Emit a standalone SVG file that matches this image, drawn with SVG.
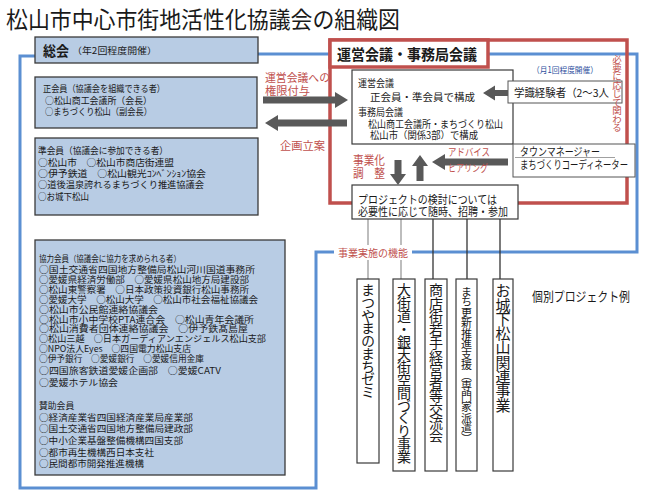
<svg xmlns="http://www.w3.org/2000/svg" width="650" height="500" viewBox="0 0 650 500">
<style>
text{font-family:"Noto Sans CJK JP","Noto Sans",sans-serif;fill:#1a1a1a}
.lb{fill:#b8cce4;stroke:#3a3a3a;stroke-width:1.3}
.wb{fill:#fff;stroke:#3a3a3a;stroke-width:1.2}
.t10{font-size:9.5px}
.t9{font-size:8.8px}
.t11{font-size:9.8px}
.red{fill:#c0504d}
.blue{fill:none;stroke:#5b8fd2;stroke-width:3}
.arr{fill:#595959}
.vt{writing-mode:vertical-rl}
</style>
<rect width="650" height="500" fill="#fff"/>
<text x="6" y="28" font-size="23" textLength="394" lengthAdjust="spacingAndGlyphs">松山市中心市街地活性化協議会の組織図</text>

<g id="connectors">
<path class="blue" d="M35,56 H20 V488 H316 V252 H334"/>
<path class="blue" d="M412,252 H637 V54 H258"/>
<line x1="368" y1="219" x2="368" y2="279" stroke="#9a9a9a" stroke-width="1.3"/>
<line x1="401" y1="219" x2="401" y2="279" stroke="#9a9a9a" stroke-width="1.3"/>
<line x1="433" y1="219" x2="433" y2="279" stroke="#333" stroke-width="1.3"/>
<line x1="467" y1="219" x2="467" y2="279" stroke="#333" stroke-width="1.3"/>
<line x1="500" y1="219" x2="500" y2="279" stroke="#333" stroke-width="1.3"/>
</g>

<g id="steering">
<rect x="330" y="40" width="297" height="163" fill="none" stroke="#c0504d" stroke-width="3.5"/>
<rect x="330" y="40" width="158" height="27" fill="#fff" stroke="#c0504d" stroke-width="3.5"/>
<text x="337" y="60" font-size="15" font-weight="bold" textLength="140" lengthAdjust="spacingAndGlyphs">運営会議・事務局会議</text>
<text x="532" y="73" font-size="8.5" style="fill:#2e4f9e" textLength="66" lengthAdjust="spacingAndGlyphs">（月1回程度開催）</text>
</g>

<g id="soukai">
<rect class="lb" x="35" y="37" width="223" height="26"/>
<text x="43" y="56" font-size="14" font-weight="bold" textLength="26" lengthAdjust="spacingAndGlyphs">総会</text>
<text x="72" y="54" font-size="9" textLength="85" lengthAdjust="spacingAndGlyphs">（年2回程度開催）</text>
</g>

<g id="seikaiin">
<rect class="lb" x="35" y="77" width="222" height="51"/>
<text class="t10" x="43" y="92" textLength="122" lengthAdjust="spacingAndGlyphs">正会員（協議会を組織できる者）</text>
<text class="t10" x="45" y="104" textLength="107" lengthAdjust="spacingAndGlyphs">○松山商工会議所（会長）</text>
<text class="t10" x="45" y="115" textLength="107" lengthAdjust="spacingAndGlyphs">○まちづくり松山（副会長）</text>
</g>

<g id="junkaiin">
<rect class="lb" x="35" y="138" width="223" height="77"/>
<text class="t10" x="38" y="154" textLength="130" lengthAdjust="spacingAndGlyphs">準会員（協議会に参加できる者）</text>
<text class="t10" x="38" y="166" textLength="136" lengthAdjust="spacingAndGlyphs">○松山市　○松山市商店街連盟</text>
<text class="t10" x="38" y="177" textLength="168" lengthAdjust="spacingAndGlyphs">○伊予鉄道　○松山観光ｺﾝﾍﾞﾝｼｮﾝ協会</text>
<text class="t10" x="38" y="188" textLength="166" lengthAdjust="spacingAndGlyphs">○道後温泉誇れるまちづくり推進協議会</text>
<text class="t10" x="38" y="200" textLength="51" lengthAdjust="spacingAndGlyphs">○お城下松山</text>
</g>

<g id="kyouryoku">
<rect class="lb" x="35" y="240" width="250" height="235"/>
<text class="t9" x="39" y="261.5" textLength="142" lengthAdjust="spacingAndGlyphs">協力会員（協議会に協力を求められる者）</text>
<text class="t9" x="39" y="272.5" textLength="216" lengthAdjust="spacingAndGlyphs">○国土交通省四国地方整備局松山河川国道事務所</text>
<text class="t9" x="39" y="282.5" textLength="210" lengthAdjust="spacingAndGlyphs">○愛媛県経済労働部　○愛媛県松山地方局建設部</text>
<text class="t9" x="39" y="292.5" textLength="210" lengthAdjust="spacingAndGlyphs">○松山東警察署　○日本政策投資銀行松山事務所</text>
<text class="t9" x="39" y="302.5" textLength="219" lengthAdjust="spacingAndGlyphs">○愛媛大学　○松山大学　○松山市社会福祉協議会</text>
<text class="t9" x="39" y="312.5" textLength="119" lengthAdjust="spacingAndGlyphs">○松山市公民館連絡協議会</text>
<text class="t9" x="39" y="322.5" textLength="215" lengthAdjust="spacingAndGlyphs">○松山市小中学校PTA連合会　○松山青年会議所</text>
<text class="t9" x="39" y="332" textLength="209" lengthAdjust="spacingAndGlyphs">○松山消費者団体連絡協議会　○伊予鉄髙島屋</text>
<text class="t9" x="39" y="341.5" textLength="227" lengthAdjust="spacingAndGlyphs">○松山三越　○日本ガーディアンエンジェルス松山支部</text>
<text class="t9" x="39" y="351.5" textLength="152" lengthAdjust="spacingAndGlyphs">○NPO法人Eyes　○四国電力松山支店</text>
<text class="t9" x="39" y="361.5" textLength="165" lengthAdjust="spacingAndGlyphs">○伊予銀行　○愛媛銀行　○愛媛信用金庫</text>
<text class="t9" x="39" y="374" textLength="182" lengthAdjust="spacingAndGlyphs">○四国旅客鉄道愛媛企画部　○愛媛CATV</text>
<text class="t9" x="39" y="385.5" textLength="79" lengthAdjust="spacingAndGlyphs">○愛媛ホテル協会</text>
<text class="t9" x="39" y="408.5">賛助会員</text>
<text class="t9" x="39" y="420.5" textLength="154" lengthAdjust="spacingAndGlyphs">○経済産業省四国経済産業局産業部</text>
<text class="t9" x="39" y="431.5" textLength="154" lengthAdjust="spacingAndGlyphs">○国土交通省四国地方整備局建政部</text>
<text class="t9" x="39" y="443.5" textLength="144" lengthAdjust="spacingAndGlyphs">○中小企業基盤整備機構四国支部</text>
<text class="t9" x="39" y="455.5" textLength="115" lengthAdjust="spacingAndGlyphs">○都市再生機構西日本支社</text>
<text class="t9" x="39" y="466.5" textLength="105" lengthAdjust="spacingAndGlyphs">○民間都市開発推進機構</text>
</g>

<g id="unei">
<rect class="wb" x="352" y="70" width="161" height="74"/>
<text class="t11" x="358" y="87" textLength="36" lengthAdjust="spacingAndGlyphs">運営会議</text>
<text class="t11" x="370" y="101" textLength="105" lengthAdjust="spacingAndGlyphs">正会員・準会員で構成</text>
<text class="t11" x="358" y="116" textLength="45" lengthAdjust="spacingAndGlyphs">事務局会議</text>
<text class="t11" x="368" y="128" textLength="135" lengthAdjust="spacingAndGlyphs">松山商工会議所・まちづくり松山</text>
<text class="t11" x="370" y="138.5" textLength="108" lengthAdjust="spacingAndGlyphs">松山市（関係3部）で構成</text>
</g>

<g id="gakushiki">
<rect x="508" y="81" width="114" height="22" fill="#fff" stroke="#555" stroke-width="1"/>
<text x="514" y="96.5" font-size="11" textLength="95" lengthAdjust="spacingAndGlyphs">学識経験者（2～3人</text>
</g>

<g id="town">
<rect x="513" y="144" width="122" height="33" fill="#fff" stroke="#555" stroke-width="1"/>
<text x="520" y="155.5" font-size="11" textLength="80" lengthAdjust="spacingAndGlyphs">タウンマネージャー</text>
<line x1="515" y1="157.5" x2="615" y2="157.5" stroke="#888" stroke-width="0.8"/>
<text x="520" y="168.5" font-size="11" textLength="108" lengthAdjust="spacingAndGlyphs">まちづくりコーディネーター</text>
</g>

<text x="617" y="55" font-size="9.5" class="red vt" letter-spacing="-1">必要に応じて関わる</text>

<g id="project">
<rect class="wb" x="352" y="185" width="166" height="34"/>
<text x="358" y="203.5" font-size="11.5" textLength="139" lengthAdjust="spacingAndGlyphs">プロジェクトの検討については</text>
<text x="358" y="215.5" font-size="11.5" textLength="150" lengthAdjust="spacingAndGlyphs">必要性に応じて随時、招聘・参加</text>
</g>

<g id="arrows">
<polygon class="arr" points="263,96.5 335,96.5 335,92 348,100 335,108 335,103.5 263,103.5"/>
<polygon class="arr" points="347,119.5 278,119.5 278,115 265,123 278,131 278,126.5 347,126.5"/>
<polygon class="arr" points="508,90 495,90 495,85.5 483,93 495,100.5 495,96 508,96"/>
<polygon class="arr" points="508,158.5 445,158.5 445,154 432,162 445,170 445,165.5 508,165.5"/>
<polygon class="arr" points="394.5,160 394.5,174 390,174 398,185 406,174 401.5,174 401.5,160"/>
<polygon class="arr" points="416.5,181 416.5,166 412,166 420,155 428,166 423.5,166 423.5,181"/>
</g>

<g id="labels">
<text class="red" x="265" y="82" font-size="11" textLength="65" lengthAdjust="spacingAndGlyphs">運営会議への</text>
<text class="red" x="265" y="94.5" font-size="11" textLength="45" lengthAdjust="spacingAndGlyphs">権限付与</text>
<text class="red" x="280" y="149.5" font-size="11" textLength="45" lengthAdjust="spacingAndGlyphs">企画立案</text>
<text class="red" x="353" y="164.5" font-size="12" textLength="32" lengthAdjust="spacingAndGlyphs">事業化</text>
<text class="red" x="353" y="177.5" font-size="12" textLength="32" lengthAdjust="spacingAndGlyphs">調　整</text>
<text class="red" x="448" y="156" font-size="10" textLength="42" lengthAdjust="spacingAndGlyphs">アドバイス</text>
<text class="red" x="448" y="172" font-size="10" textLength="40" lengthAdjust="spacingAndGlyphs">ヒアリング</text>
<rect x="334" y="245" width="78" height="15" fill="#fff"/>
<text class="red" x="338" y="257" font-size="10" textLength="70" lengthAdjust="spacingAndGlyphs">事業実施の機能</text>
<text x="532" y="301" font-size="13" textLength="98" lengthAdjust="spacingAndGlyphs">個別プロジェクト例</text>
</g>

<g id="p1">
<rect class="wb" x="357" y="279" width="22" height="184"/>
<text class="vt" x="368" y="283" font-size="14" letter-spacing="-1.3">まつやまのまちゼミ</text>
</g>
<g id="p2">
<rect class="wb" x="393" y="279" width="22" height="192"/>
<text class="vt" x="404" y="283" font-size="14" letter-spacing="-1.2">大街道・銀天街空間づくり事業</text>
</g>
<g id="p3">
<rect class="wb" x="425" y="279" width="22" height="192"/>
<text class="vt" x="436" y="283" font-size="14" letter-spacing="-0.75">商店街若手経営者等交流会</text>
</g>
<g id="p4">
<rect class="wb" x="456" y="279" width="21" height="192"/>
<text class="vt" x="466.5" y="286" font-size="11" letter-spacing="-0.5">まち更新推進支援（専門家派遣）</text>
</g>
<g id="p5">
<rect class="wb" x="493" y="279" width="20" height="192"/>
<text class="vt" x="503" y="283" font-size="15" letter-spacing="-0.7">お城下松山関連事業</text>
</g>
</svg>
